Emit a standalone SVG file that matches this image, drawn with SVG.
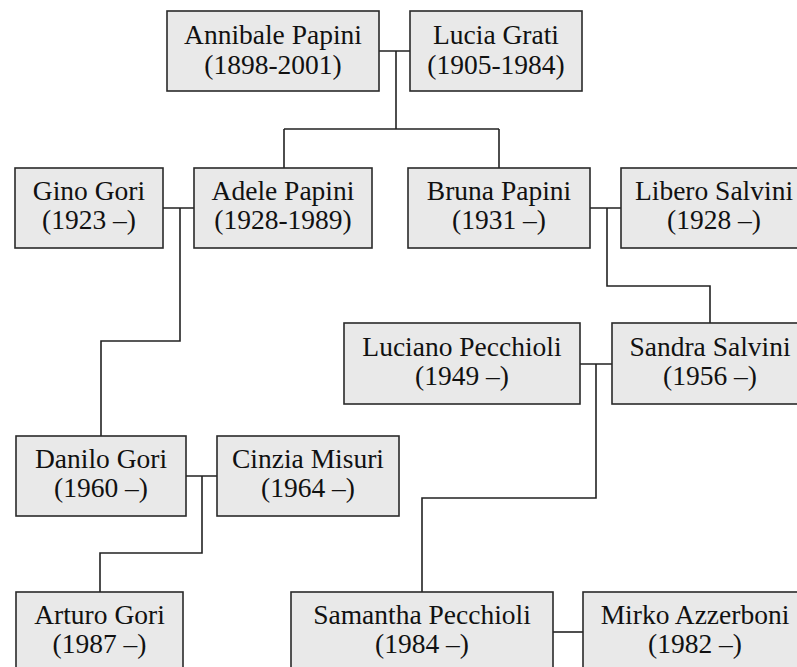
<svg xmlns="http://www.w3.org/2000/svg" width="797" height="667" viewBox="0 0 797 667">
<style>
.box{fill:#e9e9e9;stroke:#2a2a2a;stroke-width:1.6}
.t{font-family:"Liberation Serif","DejaVu Serif",serif;font-size:27.5px;fill:#111;text-anchor:middle}
.c{fill:none;stroke:#222;stroke-width:1.6}
</style>
<rect width="797" height="667" fill="#fff"/>
<g id="connectors">
<path class="c" d="M379 51H410M396 51V129M284 129H499M284 129V168M499 129V168"/>
<path class="c" d="M163 208H194M180 208V341H101V436"/>
<path class="c" d="M590 208H621M607 208V286H710V323"/>
<path class="c" d="M580 364H612M596 364V498H422V592"/>
<path class="c" d="M186 476H217M202 476V553H100V592"/>
<path class="c" d="M553 632H583"/>
</g>
<g id="annibale"><rect class="box" x="167" y="11" width="212" height="80"/><text class="t" x="273" y="44">Annibale Papini</text><text class="t" x="273" y="74">(1898-2001)</text></g>
<g id="lucia"><rect class="box" x="410" y="11" width="172" height="80"/><text class="t" x="496" y="44">Lucia Grati</text><text class="t" x="496" y="74">(1905-1984)</text></g>
<g id="gino"><rect class="box" x="15" y="168" width="148" height="80"/><text class="t" x="89" y="200">Gino Gori</text><text class="t" x="89" y="229">(1923 –)</text></g>
<g id="adele"><rect class="box" x="194" y="168" width="178" height="80"/><text class="t" x="283" y="200">Adele Papini</text><text class="t" x="283" y="229">(1928-1989)</text></g>
<g id="bruna"><rect class="box" x="408" y="168" width="182" height="80"/><text class="t" x="499" y="200">Bruna Papini</text><text class="t" x="499" y="229">(1931 –)</text></g>
<g id="libero"><rect class="box" x="621" y="168" width="187" height="80"/><text class="t" x="714" y="200">Libero Salvini</text><text class="t" x="714" y="229">(1928 –)</text></g>
<g id="luciano"><rect class="box" x="344" y="323" width="236" height="81"/><text class="t" x="462" y="356">Luciano Pecchioli</text><text class="t" x="462" y="385">(1949 –)</text></g>
<g id="sandra"><rect class="box" x="612" y="323" width="196" height="81"/><text class="t" x="710" y="356">Sandra Salvini</text><text class="t" x="710" y="385">(1956 –)</text></g>
<g id="danilo"><rect class="box" x="16" y="436" width="170" height="80"/><text class="t" x="101" y="468">Danilo Gori</text><text class="t" x="101" y="497">(1960 –)</text></g>
<g id="cinzia"><rect class="box" x="217" y="436" width="182" height="80"/><text class="t" x="308" y="468">Cinzia Misuri</text><text class="t" x="308" y="497">(1964 –)</text></g>
<g id="arturo"><rect class="box" x="16" y="592" width="167" height="80"/><text class="t" x="99.5" y="624">Arturo Gori</text><text class="t" x="99.5" y="653">(1987 –)</text></g>
<g id="samantha"><rect class="box" x="291" y="592" width="262" height="80"/><text class="t" x="422" y="624">Samantha Pecchioli</text><text class="t" x="422" y="653">(1984 –)</text></g>
<g id="mirko"><rect class="box" x="583" y="592" width="224" height="80"/><text class="t" x="695" y="624">Mirko Azzerboni</text><text class="t" x="695" y="653">(1982 –)</text></g>
</svg>
